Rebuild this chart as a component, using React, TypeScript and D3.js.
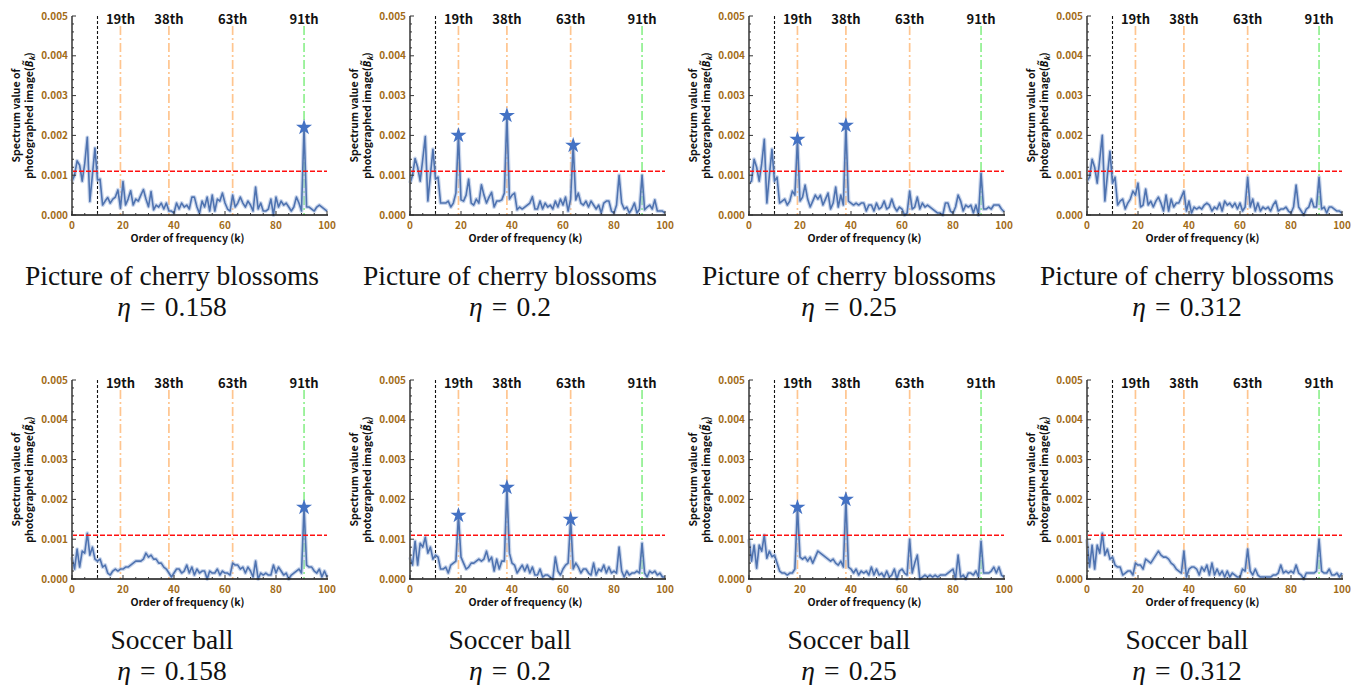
import React from "react";
import * as d3 from "d3";

// Spectrum values in units of 1e-4 (value 10 => 0.0010), k = 0..100
const cherry158 = [
  8.5, 10, 13.6, 12.5, 8.5, 13, 19.5, 3.4, 10, 16.8,
  8.8, 9, 2.5, 3.5, 4.4, 3, 4, 4.5, 6.3, 1.7,
  8.4, 2.5, 4, 6.1, 2.5, 4, 3.5, 5, 6.4, 4,
  2.1, 5.9, 1.3, 2.5, 2, 3, 1.5, 3, 1, 1,
  0.5, 3, 1.5, 3, 2, 2.5, 1.5, 4.5, 4.5, 2,
  0.4, 3.5, 2, 4.5, 1, 5, 1, 4, 3.5, 5.5,
  3, 1.5, 1, 5, 2, 3, 4.5, 3, 2, 3.5,
  2.5, 1, 7, 1.5, 3, 1, 1, 1.5, 4, 0,
  4.5, 2, 3.5, 2.5, 3, 2, 1, 2, 4.5, 3,
  1, 22, 2, 2, 1.5, 1, 2, 2.5, 2, 1.5, 1,
];
const cherry200 = [
  8, 10, 14.2, 12, 8.5, 14, 19.7, 3.5, 10, 16.5,
  9, 9.5, 3, 3, 3, 3.5, 2, 3, 5.5, 20,
  3.8, 3.5, 5, 9, 3, 2.5, 4, 3, 7.6, 5,
  3, 4.5, 5.7, 2, 3.5, 3.5, 3.8, 5.5, 25, 4,
  5, 5.5, 1.3, 2, 1.5, 2, 2.5, 3, 4.6, 1.5,
  1.5, 3.5, 1.5, 3, 2, 2.5, 1.5, 3.5, 2, 4,
  2.5, 4.5, 1, 4, 17.5, 3.8, 5.5, 3, 2.5, 3.5,
  2, 3.5, 2.5, 1.5, 2.5, 0.5, 3, 3.5, 3.5, 1,
  0.5, 2.5, 10, 3, 1.5, 2, 0.5, 1.5, 3, 0.5,
  1.5, 10, 1.3, 2, 2.5, 1.5, 3.8, 1, 1, 1, 0.5,
];
const cherry250 = [
  8, 8.5, 14, 12, 8.5, 13, 19, 3, 10, 16.5,
  8.5, 9.5, 3, 3.5, 4, 2.5, 3.5, 6, 5, 19,
  3.5, 4.5, 7.5, 4, 2, 3.5, 5, 4, 5, 2.5,
  4, 5.5, 1.5, 3, 7, 2, 5, 2.5, 22.5, 3.5,
  3, 2.5, 3, 2.5, 3, 3, 1, 2.5, 2.5, 1,
  3, 1.5, 2, 3.5, 1.5, 2, 4, 2, 1, 2,
  1.5, 0, 0.5, 6, 1.5, 2, 4.5, 1.5, 3, 2,
  2.5, 2, 1.5, 1, 0.5, 0.5, 0, 3, 3, 1,
  0.5, 2, 5, 3.5, 1, 2.5, 2, 2.5, 0.5, 2.5,
  0, 10.5, 1.5, 1.5, 2, 1.5, 2.5, 2.5, 2.5, 1.5, 0.8,
];
const cherry312 = [
  8.5, 9.5, 14, 12, 8, 14, 20, 3.5, 10, 16,
  8, 9.5, 2.5, 3.5, 4, 1.5, 3, 4, 6, 5,
  8, 2, 2.5, 6.5, 2.5, 3.5, 2, 3.5, 4.5, 3,
  1, 5, 1, 4, 2, 3, 3, 4.5, 6, 1,
  3.5, 0.5, 2, 1.5, 2, 1.5, 2.5, 3, 2.5, 1,
  2, 1.5, 3, 1, 3.5, 2.5, 3, 2, 3, 1.5,
  3, 1, 2, 9.5, 2, 4, 1, 3, 1, 2,
  1.5, 2, 1, 2.5, 3.5, 1, 1.5, 1.5, 2, 1,
  0.5, 2, 7.5, 2, 1, 0, 1.5, 2, 4, 2,
  2, 9.5, 1.5, 2, 0.5, 2, 2, 1.5, 1, 1, 0.5,
];
const soccer158 = [
  5.5, 2.5, 7.5, 3, 7, 6.5, 11.5, 6, 8, 5,
  4.5, 5, 3, 3.5, 1.5, 1, 2, 2.5, 2, 2.5,
  2.5, 3, 3, 3.5, 4, 4.5, 4.5, 4.5, 5, 6.5,
  5.5, 6, 5, 5, 4, 4, 3, 2.5, 1.5, 0.5,
  1.5, 2.5, 2.5, 1.5, 2, 3.5, 1.5, 3, 1, 2.5,
  1.5, 2, 2, 0, 2, 1.5, 1.5, 2.5, 1, 2,
  1.5, 1.5, 1, 4, 3.5, 3.5, 2.5, 3, 1.5, 3,
  2, 0.5, 4.5, 0, 1.5, 1, 1.5, 1, 1, 3.5,
  1.5, 3, 2, 1, 1.5, 0, 1, 1.5, 2, 2.5,
  1.5, 18, 3.5, 3, 3, 2, 1.5, 2.5, 0.5, 2, 0.5,
];
const soccer200 = [
  5.5, 3.5, 9.5, 3.5, 9, 8, 10.5, 6.5, 8, 5,
  6, 5.5, 2.5, 2.5, 3, 1.5, 3.5, 4, 4.5, 16,
  5.5, 4, 2.5, 3, 4, 4, 4.5, 5, 4.5, 5,
  7, 4.5, 5.5, 2, 5, 2.5, 4.5, 4.5, 23, 6.5,
  4, 3.5, 1.5, 2.5, 3.5, 2, 3.5, 1.5, 3, 1,
  1, 2.5, 0.5, 1, 1, 0.5, 0, 5.5, 2, 1,
  2.5, 3.5, 4, 15, 2.5, 4, 3, 1.5, 2.5, 2.5,
  1.5, 1, 4, 1, 2.5, 2, 3.5, 1.5, 3, 1.5,
  2, 1.5, 8, 2, 0.5, 2, 1, 1.5, 1.5, 2,
  1.5, 9, 1.5, 0.5, 2, 1.5, 2, 1, 1.5, 0.5, 0.5,
];
const soccer250 = [
  10, 4.5, 8.5, 2.7, 8.5, 7, 11, 5.2, 7, 5.6,
  6, 4, 2, 1.5, 1.5, 1, 1.5, 1.5, 2.5, 18,
  5.5, 5, 5.5, 4.5, 5.5, 4, 5.5, 7, 6.5, 6,
  5.5, 5, 4.5, 5, 4, 3.5, 4.5, 3, 20, 3,
  2.5, 1.5, 2.5, 1, 2, 1.5, 2, 1, 3, 1,
  2.5, 1, 1.5, 0.5, 2, 0.5, 1, 2.5, 0, 2,
  2.5, 1.5, 1, 10, 1.5, 4, 6, 0, 0.5, 1,
  0.5, 1, 0.5, 1, 0.5, 1, 1, 1, 1.5, 2,
  2.5, 0, 6, 0.5, 1, 0, 1.5, 1.5, 1, 2,
  0.5, 9.5, 1.5, 1.5, 1.5, 2, 3, 1.5, 3, 1, 0.5,
];
const soccer312 = [
  10, 3, 8.5, 2.5, 8.5, 6.5, 11.5, 6, 7.5, 5,
  5.5, 3.5, 3, 3, 1, 1.5, 2, 2, 1, 4,
  3.5, 3.5, 2.5, 5, 4.5, 4, 5, 6, 7, 6,
  5.5, 5.5, 5, 4, 3.5, 2.5, 2, 1.5, 7, 0.5,
  2.5, 3, 3, 2.5, 1, 3, 2, 3.5, 1, 4,
  1, 2.5, 1, 2, 0.5, 2, 0.5, 1.5, 1, 0.5,
  0.5, 2.5, 2, 7.5, 2, 1, 2.5, 1, 0.5, 0.5,
  0.5, 0.5, 0.5, 1, 1, 1.5, 3.5, 1.5, 2, 1.5,
  2, 1.5, 3.5, 1.5, 1, 0, 1.5, 1.5, 1.5, 1.5,
  2, 10, 2, 1.5, 1.5, 2.5, 1, 1, 1.5, 0.5, 1.5,
];

const starsCherry158 = [91];
const starsCherry200 = [19, 38, 64];
const starsCherry250 = [19, 38];
const starsCherry312: number[] = [];
const starsSoccer158 = [91];
const starsSoccer200 = [19, 38, 63];
const starsSoccer250 = [19, 38];
const starsSoccer312: number[] = [];

const etaLabels = ["0.158", "0.2", "0.25", "0.312"];
const subjects = ["Picture of cherry blossoms", "Soccer ball"];
const orangeMarks = [19, 38, 63];
const greenMarks = [91];
const markLabels = ["19th", "38th", "63th", "91th"];
const markPositions = [19, 38, 63, 91];
const cutoffK = 10;
const thresholdValue = 11;
const yTicks = [0, 10, 20, 30, 40, 50];
const xTicks = [0, 20, 40, 60, 80, 100];

const rows = [
  { series: [cherry158, cherry200, cherry250, cherry312], stars: [starsCherry158, starsCherry200, starsCherry250, starsCherry312] },
  { series: [soccer158, soccer200, soccer250, soccer312], stars: [starsSoccer158, starsSoccer200, starsSoccer250, starsSoccer312] },
];

const GOTHIC = "'Noto Sans CJK JP', 'Noto Sans', sans-serif";
const SERIF = "'Liberation Serif', 'DejaVu Serif', serif";
const TICK_COLOR = "#a26c18";

function Panel({ values, stars, ox, oy }: { values: number[]; stars: number[]; ox: number; oy: number }) {
  const W = 255;
  const H = 199;
  const x = d3.scaleLinear().domain([0, 100]).range([ox, ox + W]);
  const y = d3.scaleLinear().domain([0, 50]).range([oy + H, oy]);
  const pts = values.map((v, k) => [k, v] as [number, number]);
  const line = d3.line<[number, number]>().x((d) => x(d[0])).y((d) => y(d[1]));
  const path = line(pts) || "";
  const star = d3.symbol().type(d3.symbolStar).size(80)() || "";
  const minorY = d3.range(0, 50.01, 2);
  const minorX = d3.range(0, 100.01, 5);
  const cx = x(50);
  const cy = y(25);
  return (
    <g>
      {orangeMarks.map((m) => (
        <line key={"o" + m} x1={x(m)} x2={x(m)} y1={oy + 10} y2={y(0)} stroke="#ffc58f" strokeWidth={1.7} strokeDasharray="9,3,2,3" />
      ))}
      {greenMarks.map((m) => (
        <line key={"g" + m} x1={x(m)} x2={x(m)} y1={oy + 10} y2={y(0)} stroke="#8ff08f" strokeWidth={1.7} strokeDasharray="9,3,2,3" />
      ))}
      <line x1={x(cutoffK)} x2={x(cutoffK)} y1={oy} y2={y(0)} stroke="#111" strokeWidth={1.1} strokeDasharray="3,2" />
      {markLabels.map((t, i) => (
        <text key={t} x={x(markPositions[i])} y={oy + 8} textAnchor="middle" fontFamily={GOTHIC} fontSize={13} fontWeight={700} fill="#111">
          {t}
        </text>
      ))}
      <path d={path} fill="none" stroke="#a9bde0" strokeWidth={4} strokeOpacity={0.6} strokeLinejoin="round" />
      <path d={path} fill="none" stroke="#4f73b0" strokeWidth={1.6} strokeLinejoin="round" />
      <line x1={x(0)} x2={x(100)} y1={y(thresholdValue)} y2={y(thresholdValue)} stroke="#ff1010" strokeWidth={1.6} strokeDasharray="5,2" />
      {stars.map((k) => (
        <path key={"s" + k} d={star} transform={`translate(${x(k)},${y(values[k])})`} fill="#4472c4" />
      ))}
      <line x1={x(0)} x2={x(0)} y1={oy} y2={y(0)} stroke="#666" strokeWidth={2} />
      <line x1={x(0) - 1} x2={x(100) + 1} y1={y(0)} y2={y(0)} stroke="#111" strokeWidth={1.6} />
      {minorY.map((v) => (
        <line key={"my" + v} x1={x(0)} x2={x(0) + (v % 10 === 0 ? 4 : 2)} y1={y(v)} y2={y(v)} stroke="#333" strokeWidth={1} />
      ))}
      {minorX.map((v) => (
        <line key={"mx" + v} x1={x(v)} x2={x(v)} y1={y(0)} y2={y(0) - (v % 20 === 0 ? 4 : 2)} stroke="#333" strokeWidth={1} />
      ))}
      {yTicks.map((v) => (
        <text key={"yt" + v} x={x(0) - 4} y={y(v) + 3.5} textAnchor="end" fontFamily={GOTHIC} fontSize={10} fontWeight={700} fill={TICK_COLOR}>
          {(v / 10000).toFixed(3)}
        </text>
      ))}
      {xTicks.map((v) => (
        <text key={"xt" + v} x={x(v)} y={y(0) + 14} textAnchor="middle" fontFamily={GOTHIC} fontSize={10} fontWeight={700} fill={TICK_COLOR}>
          {v}
        </text>
      ))}
      <text x={cx - 12} y={y(0) + 27} textAnchor="middle" fontFamily={GOTHIC} fontSize={10.5} fontWeight={700} fill="#111">
        Order of frequency (k)
      </text>
      <g transform={`translate(${ox - 52},${cy}) rotate(-90)`}>
        <text x={0} y={0} textAnchor="middle" fontFamily={GOTHIC} fontSize={10.5} fontWeight={700} fill="#111">
          Spectrum value of
        </text>
        <text x={0} y={13} textAnchor="middle" fontFamily={GOTHIC} fontSize={10.5} fontWeight={700} fill="#111">
          photographed image(
          <tspan fontStyle="italic">{"B\u0303"}</tspan>
          <tspan fontStyle="italic" fontSize={7.5} dy={2}>k</tspan>
          <tspan dy={-2}>)</tspan>
        </text>
      </g>
    </g>
  );
}

export default function App() {
  const plotLefts = [72, 410, 749, 1087];
  const plotTops = [16, 380];
  const captionY = [285, 649];
  return (
    <svg width={1363} height={685} style={{ position: "absolute", left: 0, top: 0, background: "#fff" }}>
      <rect x={0} y={0} width={1363} height={685} fill="#fff" />
      {rows.map((row, r) =>
        row.series.map((vals, c) => (
          <g key={r + "-" + c}>
            <Panel values={vals} stars={row.stars[c]} ox={plotLefts[c]} oy={plotTops[r]} />
            <text x={plotLefts[c] + 100} y={captionY[r]} textAnchor="middle" fontFamily={SERIF} fontSize={27.5} fill="#111">
              {subjects[r]}
            </text>
            <text x={plotLefts[c] + 100} y={captionY[r] + 31} textAnchor="middle" fontFamily={SERIF} fontSize={27.5} fill="#111">
              <tspan fontStyle="italic">η</tspan>
              {"\u2004=\u2004" + etaLabels[c]}
            </text>
          </g>
        ))
      )}
    </svg>
  );
}
